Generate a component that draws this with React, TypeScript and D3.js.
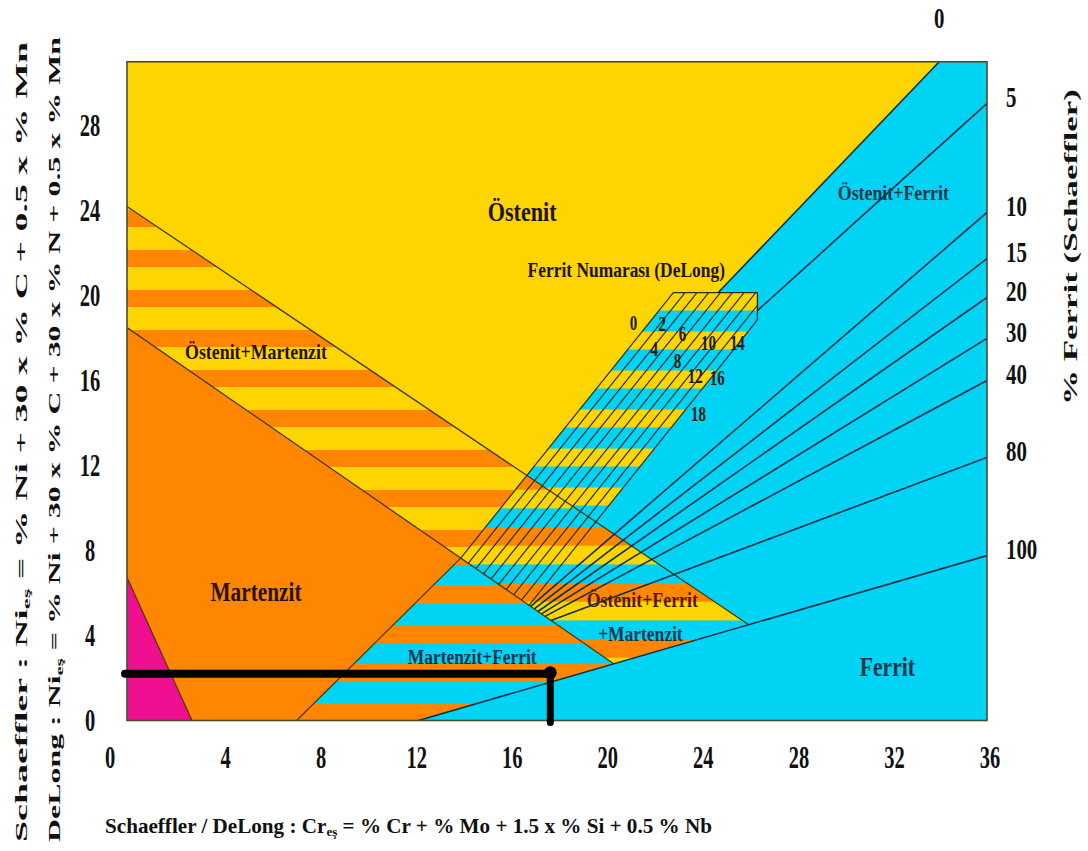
import React from 'react';
import * as d3 from 'd3';

type P = [number, number];

const W = 1088;
const H = 851;

// ---- axis ticks ----
const crTicks = [0, 4, 8, 12, 16, 20, 24, 28, 32, 36];
const niTicks = [0, 4, 8, 12, 16, 20, 24, 28];

// ---- Schaeffler iso-ferrite lines (% ferrite) ----
const ferritLabels = ['0', '5', '10', '15', '20', '30', '40', '80', '100'];
const isoHighCr = [34.0, 36, 36, 36, 36, 36, 36, 36, 36];
const isoHighNi = [31.0, 29.04, 23.91, 21.74, 19.91, 17.98, 16.0, 12.38, 7.76];
const isoLowCr = [24.75, 26.39, 16.9, 17.05, 17.2, 17.35, 17.5, 17.75, 12.2];
const isoLowNi = [20.14, 19.29, 5.37, 5.25, 5.13, 5.02, 4.9, 4.71, 0];

// ---- DeLong ferrite numbers ----
const fnNumbers = [0, 2, 4, 6, 8, 10, 12, 14, 16, 18];
const fnTopCr = [22.87, 23.36, 23.86, 24.35, 24.84, 25.34, 25.83, 26.32, 26.82, 27.31];
const fnLabelCr = [21.2, 22.41, 22.07, 23.25, 23.04, 24.34, 23.79, 25.55, 24.71, 23.92];
const fnLabelNi = [18.73, 18.68, 17.51, 18.21, 16.94, 17.79, 16.24, 17.79, 16.14, 14.45];
const fnSlope = 1.404;
const boxTopNi = 20.14;
const boxRightCr = 26.39;

// ---- phase boundaries ----
const amUpperCr = [0, 26.01];
const amUpperNi = [24.19, 4.52];
const amLowerCr = [0, 20.36];
const amLowerNi = [18.49, 2.68];
const martFootCr = 7.1;
const magentaCr = [0, 0, 2.72];
const magentaNi = [0, 6.73, 0];

// ---- example weld point ----
const weldCr = 17.72;
const weldNi = 2.2;

// ---- region labels ----
const regionNames = ['Östenit', 'Östenit+Martenzit', 'Martenzit', 'Martenzit+Ferrit', 'Östenit+Ferrit', 'Östenit+Ferrit', '+Martenzit', 'Ferrit', 'Ferrit Numarası (DeLong)'];
const regionCr = [16.54, 5.4, 5.4, 14.45, 32.08, 21.57, 21.49, 31.83, 20.9];
const regionNi = [23.93, 17.35, 6.05, 2.99, 24.82, 5.67, 4.07, 2.52, 21.2];

const YEL = '#FFD500';
const ORA = '#FF8600';
const CYA = '#00D3F4';
const MAG = '#EE1090';
const FONT = "'Liberation Serif', 'Times New Roman', serif";

function inter(a: P, b: P, c: P, d: P): P {
  const [x1, y1] = a, [x2, y2] = b, [x3, y3] = c, [x4, y4] = d;
  const den = (x1 - x2) * (y3 - y4) - (y1 - y2) * (x3 - x4);
  const t = ((x1 - x3) * (y3 - y4) - (y1 - y3) * (x3 - x4)) / den;
  return [x1 + t * (x2 - x1), y1 + t * (y2 - y1)];
}

function Txt(props: { x: number; y: number; size: number; sx?: number; anchor?: string; fill?: string; rot?: number; children: React.ReactNode }) {
  const { x, y, size, sx = 0.82, anchor = 'middle', fill = '#1d1300', rot = 0, children } = props;
  return (
    <text
      transform={`translate(${x},${y}) rotate(${rot}) scale(${sx},1)`}
      fontFamily={FONT}
      fontWeight="bold"
      fontSize={size}
      textAnchor={anchor as any}
      dy="0.34em"
      fill={fill}
    >
      {children}
    </text>
  );
}

export default function App() {
  const x = d3.scaleLinear().domain([0, 36]).range([127, 987]);
  const y = d3.scaleLinear().domain([0, 31]).range([720.5, 61.75]);
  const poly = (ps: P[]) => ps.map((p) => `${x(p[0])},${y(p[1])}`).join(' ');
  const line = d3.line<P>().x((d) => x(d[0])).y((d) => y(d[1]));

  const upA: P = [amUpperCr[0], amUpperNi[0]];
  const upB: P = [amUpperCr[1], amUpperNi[1]];
  const loA: P = [amLowerCr[0], amLowerNi[0]];
  const loB: P = [amLowerCr[1], amLowerNi[1]];

  const fnLines = fnTopCr.map((c) => {
    const t: P = [c, boxTopNi];
    const t2: P = [c - 1, boxTopNi - fnSlope];
    const start: P = c <= boxRightCr ? t : [boxRightCr, boxTopNi - (c - boxRightCr) * fnSlope];
    return { start, end: inter(t, t2, loA, loB), up: inter(t, t2, upA, upB) };
  });
  const fn0 = fnLines[0];
  const fn9 = fnLines[fnLines.length - 1];
  const apex = fn0.end;
  const mFoot: P = [martFootCr, 0];
  const fBottom: P = [isoLowCr[8], isoLowNi[8]];
  const zeroTop: P = [isoHighCr[0], isoHighNi[0]];
  const zeroLow: P = [isoLowCr[0], isoLowNi[0]];
  const boxTL: P = [fnTopCr[0], boxTopNi];
  const boxTR: P = [boxRightCr, boxTopNi];

  const yellowA: P[] = [[0, 31], zeroTop, zeroLow, boxTL, fn0.up, upA];
  const afPoly: P[] = [boxTL, boxTR, fn9.start, fn9.up, fn0.up];
  const amPoly: P[] = [upA, upB, loB, loA];
  const amfPoly: P[] = [fn0.up, upB, loB, apex];
  const mPoly: P[] = [loA, apex, mFoot, [0, 0]];
  const mfPoly: P[] = [mFoot, apex, loB, fBottom];
  const magPoly: P[] = magentaCr.map((c, i) => [c, magentaNi[i]] as P);

  const px0 = x(0), px1 = x(36), py0 = y(31), py1 = y(0);

  const BND = '#4a3a08';
  const ISO = '#0c3048';

  const isoSegs: { a: P; b: P }[] = [];
  ferritLabels.forEach((_, i) => {
    const hi: P = [isoHighCr[i], isoHighNi[i]];
    const lo: P = [isoLowCr[i], isoLowNi[i]];
    if (i === 1) {
      const ip = d3.interpolateArray(hi, lo) as (t: number) => P;
      isoSegs.push({ a: hi, b: ip(0.29) });
      isoSegs.push({ a: ip(0.6), b: lo });
    } else {
      isoSegs.push({ a: hi, b: lo });
    }
  });

  const labelColors = ['#1d1300', '#1d1300', '#2a1200', '#0b3648', '#0b3648', '#5a1800', '#0b3648', '#0b3648', '#1d1300'];
  const labelSizes = [27, 21, 27, 20.5, 21, 21, 20.5, 27, 20.5];
  const labelSx = [0.82, 0.85, 0.79, 0.85, 0.85, 0.85, 0.85, 0.8, 0.85];

  return (
    <svg width={W} height={H} style={{ position: 'absolute', left: 0, top: 0, background: '#fff' }}>
      <defs>
        <clipPath id="plotClip">
          <rect x={px0} y={py0} width={px1 - px0} height={py1 - py0} />
        </clipPath>
        <pattern id="pAF" patternUnits="userSpaceOnUse" x={0} y={y(boxTopNi)} width={W} height={39}>
          <rect width={W} height={39} fill={CYA} />
          <rect width={W} height={18} fill={YEL} />
        </pattern>
        <pattern id="pAM" patternUnits="userSpaceOnUse" x={0} y={210} width={W} height={40}>
          <rect width={W} height={40} fill={YEL} />
          <rect width={W} height={17} fill={ORA} />
        </pattern>
        <pattern id="pAMF" patternUnits="userSpaceOnUse" x={0} y={527} width={W} height={56}>
          <rect width={W} height={56} fill={CYA} />
          <rect width={W} height={18.7} fill={ORA} />
          <rect y={18.7} width={W} height={18.7} fill={YEL} />
        </pattern>
        <pattern id="pMF" patternUnits="userSpaceOnUse" x={0} y={586} width={W} height={39}>
          <rect width={W} height={39} fill={CYA} />
          <rect width={W} height={18} fill={ORA} />
        </pattern>
      </defs>

      <g clipPath="url(#plotClip)">
        <rect x={px0} y={py0} width={px1 - px0} height={py1 - py0} fill={CYA} />
        <polygon points={poly(yellowA)} fill={YEL} />
        <polygon points={poly(afPoly)} fill="url(#pAF)" />
        <polygon points={poly(amPoly)} fill="url(#pAM)" />
        <polygon points={poly(amfPoly)} fill="url(#pAMF)" />
        <polygon points={poly(mPoly)} fill={ORA} />
        <polygon points={poly(mfPoly)} fill="url(#pMF)" />
        <polygon points={poly(magPoly)} fill={MAG} />

        <path d={line([upA, upB]) || ''} stroke={BND} strokeWidth={1.3} fill="none" />
        <path d={line([loA, loB]) || ''} stroke={BND} strokeWidth={1.3} fill="none" />
        <path d={line([mFoot, apex]) || ''} stroke={BND} strokeWidth={1.3} fill="none" />
        <path d={line([magPoly[1], magPoly[2]]) || ''} stroke={BND} strokeWidth={1.2} fill="none" />

        {fnLines.map((l, i) => (
          <path key={'fn' + i} d={line([l.start, l.end]) || ''} stroke="#26301e" strokeWidth={1.2} fill="none" />
        ))}
        <path d={line([boxTL, boxTR, fn9.start]) || ''} stroke="#26301e" strokeWidth={1.3} fill="none" />

        {isoSegs.map((s, i) => (
          <path key={'iso' + i} d={line([s.a, s.b]) || ''} stroke={ISO} strokeWidth={1.6} fill="none" />
        ))}
      </g>

      <rect x={px0} y={py0} width={px1 - px0} height={py1 - py0} fill="none" stroke="#4d4a30" strokeWidth={1.6} />

      <path d={line([[0, weldNi], [weldCr, weldNi]]) || ''} transform="translate(-2,0)" stroke="#000" strokeWidth={8} strokeLinecap="round" fill="none" />
      <line x1={x(weldCr)} y1={y(weldNi)} x2={x(weldCr)} y2={y(0) + 2} stroke="#000" strokeWidth={7} strokeLinecap="round" />
      <circle cx={x(weldCr)} cy={y(weldNi) - 1} r={6.5} fill="#000" />

      {regionNames.map((n, i) => (
        <Txt key={'r' + i} x={x(regionCr[i])} y={y(regionNi[i])} size={labelSizes[i]} sx={labelSx[i]} fill={labelColors[i]}>
          {n}
        </Txt>
      ))}

      {fnNumbers.map((n, i) => (
        <Txt key={'fnl' + i} x={x(fnLabelCr[i])} y={y(fnLabelNi[i])} size={22} sx={0.68} fill="#1a1a10">
          {String(n)}
        </Txt>
      ))}

      {crTicks.map((v) => (
        <Txt key={'xt' + v} x={x(v) + (v === 0 ? -17 : 3)} y={757} size={31} sx={0.66} fill="#111">
          {String(v)}
        </Txt>
      ))}
      {niTicks.map((v) => (
        <Txt key={'yt' + v} x={90} y={y(v)} size={31} sx={0.66} fill="#111">
          {String(v)}
        </Txt>
      ))}
      {ferritLabels.map((lab, i) => (
        <Txt
          key={'fr' + i}
          x={i === 0 ? x(isoHighCr[0]) : 1006}
          y={i === 0 ? y(isoHighNi[0]) - 44 : y(isoHighNi[i]) - 6}
          size={29}
          sx={0.72}
          anchor={i === 0 ? 'middle' : 'start'}
          fill="#111"
        >
          {lab}
        </Txt>
      ))}

      <text transform="translate(21,842) rotate(-90)" fontFamily={FONT} fontWeight="bold" fontSize={17} dy="0.34em" textLength={800} lengthAdjust="spacingAndGlyphs" fill="#111">
        Schaeffler : Ni<tspan fontSize={11} dy={3}>eş</tspan><tspan dy={-3}> = % Ni + 30 x % C + 0.5 x % Mn</tspan>
      </text>
      <text transform="translate(54,842) rotate(-90)" fontFamily={FONT} fontWeight="bold" fontSize={17} dy="0.34em" textLength={805} lengthAdjust="spacingAndGlyphs" fill="#111">
        DeLong : Ni<tspan fontSize={11} dy={3}>eş</tspan><tspan dy={-3}> = % Ni + 30 x % C + 30 x % N + 0.5 x % Mn</tspan>
      </text>
      <text transform="translate(1071,405) rotate(-90)" fontFamily={FONT} fontWeight="bold" fontSize={18} dy="0.34em" textLength={316} lengthAdjust="spacingAndGlyphs" fill="#111">
        % Ferrit (Schaeffler)
      </text>
      <text transform="translate(105,826)" fontFamily={FONT} fontWeight="bold" fontSize={21} dy="0.34em" textLength={607} lengthAdjust="spacingAndGlyphs" fill="#111">
        Schaeffler / DeLong  : Cr<tspan fontSize={13} dy={3}>eş</tspan><tspan dy={-3}> = % Cr + % Mo + 1.5 x % Si + 0.5 % Nb</tspan>
      </text>
    </svg>
  );
}
